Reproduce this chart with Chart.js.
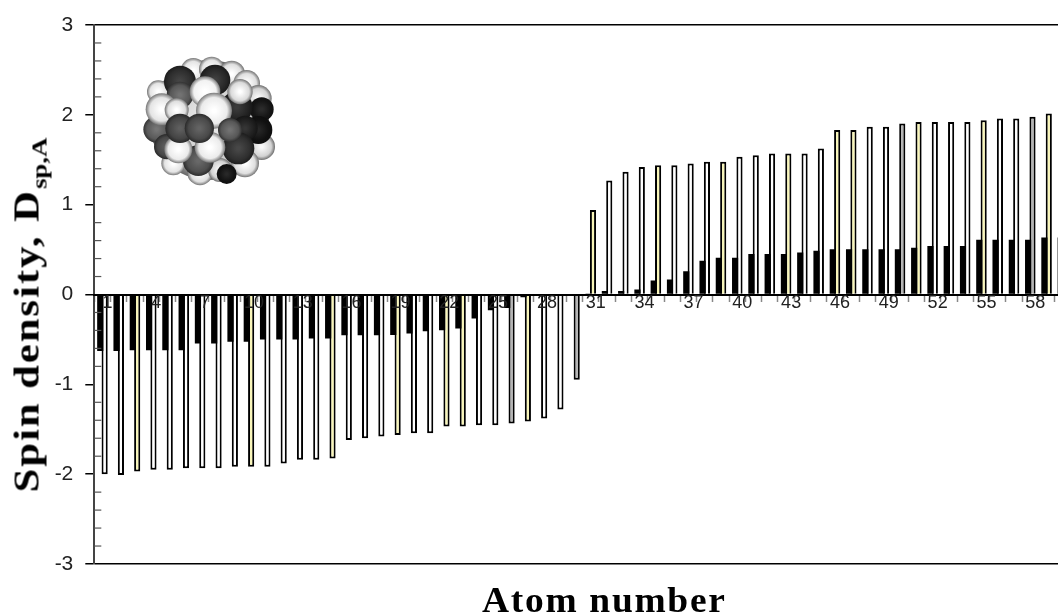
<!DOCTYPE html>
<html lang="en">
  <head>
    <meta charset="UTF-8" />
    <title>Spin density by atom</title>
    <script src="https://cdn.jsdelivr.net/npm/chart.js"></script>
    <style>
      html,
      body {
        margin: 0;
        padding: 0;
        width: 1058px;
        height: 613px;
        overflow: hidden;
        background: #fff;
      }
      #chart {
        position: absolute;
        left: 0;
        top: 0;
      }
      .title {
        position: absolute;
        font-family: "Liberation Serif", serif;
        font-weight: bold;
        color: #000;
        white-space: nowrap;
      }
      #xTitle {
        left: 482px;
        top: 581px;
        font-size: 35px;
        letter-spacing: 1.6px;
        transform-origin: left top;
        transform: scaleX(1.07);
      }
      #yTitle {
        left: 30px;
        top: 315px;
        font-size: 35px;
        letter-spacing: 1.6px;
        transform: translate(-50%, -50%) rotate(-90deg) scaleX(1.22);
      }
      #yTitle sub {
        font-size: 22px;
        letter-spacing: 0;
      }
    </style>
  </head>
  <body>
    <canvas id="chart" width="1071" height="613"></canvas>
    <div class="title" id="xTitle">Atom number</div>
    <div class="title" id="yTitle">Spin density, D<sub>sp,A</sub></div>

    <script>
      const atoms = [
        1, 2, 3, 4, 5, 6, 7, 8, 9, 10, 11, 12, 13, 14, 15, 16, 17, 18, 19, 20,
        21, 22, 23, 24, 25, 26, 27, 28, 29, 30, 31, 32, 33, 34, 35, 36, 37, 38,
        39, 40, 41, 42, 43, 44, 45, 46, 47, 48, 49, 50, 51, 52, 53, 54, 55, 56,
        57, 58, 59, 60,
      ];
      const blackValues = [
        -0.63, -0.63, -0.62, -0.62, -0.62, -0.62, -0.545, -0.545, -0.527, -0.527,
        -0.5, -0.5, -0.5, -0.49, -0.49, -0.453, -0.453, -0.453, -0.45, -0.434,
        -0.41, -0.397, -0.378, -0.267, -0.175, -0.15, -0.03, 0, 0, 0,
        0.01, 0.04, 0.04, 0.055, 0.156, 0.167, 0.26, 0.375, 0.41, 0.41,
        0.45, 0.45, 0.45, 0.468, 0.486, 0.505, 0.505, 0.505, 0.505, 0.505,
        0.52, 0.54, 0.54, 0.54, 0.61, 0.61, 0.61, 0.61, 0.635, 0.635,
      ];
      const whiteValues = [
        -2.0, -2.01, -1.97, -1.95, -1.95, -1.935, -1.935, -1.935, -1.917, -1.917,
        -1.917, -1.88, -1.84, -1.84, -1.825, -1.62, -1.6, -1.58, -1.565, -1.545,
        -1.545, -1.47, -1.47, -1.455, -1.455, -1.435, -1.415, -1.38, -1.28, -0.95,
        0.94, 1.27, 1.366, 1.42, 1.44, 1.44, 1.458, 1.477, 1.477, 1.533,
        1.55, 1.57, 1.57, 1.57, 1.625, 1.83, 1.83, 1.867, 1.867, 1.904,
        1.92, 1.92, 1.92, 1.92, 1.94, 1.96, 1.96, 1.98, 2.015, 2.03,
      ];
      const yellowAtoms = [3, 10, 15, 19, 22, 23, 27, 31, 35, 39, 43, 46, 47, 51, 55, 59];
      const grayAtoms = [26, 30, 50, 58];

      // ball model in the corner: x, y, radius, shade (0 dark .. 1 light)
      const balls = [
        [237, 210, 180, 0.8],
        [190, 62, 38, 0.92], [245, 58, 38, 0.92], [305, 72, 40, 0.9], [350, 100, 40, 0.9],
        [385, 145, 40, 0.85], [395, 290, 40, 0.85], [345, 340, 42, 0.9], [130, 340, 36, 0.92],
        [210, 368, 38, 0.9], [270, 360, 36, 0.85], [85, 125, 34, 0.92],
        [80, 238, 40, 0.33], [110, 290, 38, 0.25], [150, 95, 48, 0.14], [150, 135, 40, 0.32],
        [255, 90, 46, 0.12], [395, 178, 36, 0.04], [385, 240, 42, 0.02], [320, 172, 48, 0.1],
        [345, 235, 38, 0.08], [325, 295, 48, 0.15], [205, 332, 46, 0.28], [290, 372, 30, 0.03],
        [95, 178, 48, 0.92], [140, 180, 36, 0.9], [330, 125, 38, 0.88], [225, 125, 46, 0.98],
        [252, 182, 54, 0.95], [240, 292, 46, 0.95], [145, 298, 42, 0.95],
        [300, 240, 36, 0.32], [150, 235, 44, 0.24], [208, 235, 44, 0.26],
      ];

      function shadeColor(shade, gain) {
        const v = Math.max(0, Math.min(255, Math.round(shade * 255 * gain + 12)));
        return `rgb(${v},${v},${v})`;
      }

      const fullerenePlugin = {
        id: "fullerene",
        afterDraw(chart) {
          const ctx = chart.ctx;
          ctx.save();
          ctx.translate(130, 50);
          ctx.scale(1 / 3, 1 / 3);
          ctx.filter = "blur(0.6px)";
          balls.forEach(([x, y, r, shade]) => {
            const g = ctx.createRadialGradient(x, y, r * 0.1, x, y, r);
            g.addColorStop(0, shadeColor(shade + 0.08, 1));
            g.addColorStop(0.7, shadeColor(shade, 0.92));
            g.addColorStop(1, shadeColor(shade, 0.45));
            ctx.fillStyle = g;
            ctx.beginPath();
            ctx.arc(x, y, r, 0, 2 * Math.PI);
            ctx.fill();
          });
          ctx.restore();
        },
      };

      // minor ticks on the y axis point inwards, so the scale can't draw them
      const minorTicksPlugin = {
        id: "minorTicks",
        afterDatasetsDraw(chart) {
          const ctx = chart.ctx;
          const y = chart.scales.y;
          ctx.save();
          ctx.strokeStyle = "#555";
          ctx.lineWidth = 1.2;
          y.ticks.forEach((tick) => {
            if (isMajor(tick.value)) return;
            const py = y.getPixelForValue(tick.value);
            ctx.beginPath();
            ctx.moveTo(y.right, py);
            ctx.lineTo(y.right + 7, py);
            ctx.stroke();
          });
          ctx.restore();
        },
      };

      function isMajor(v) {
        return Math.abs(v - Math.round(v)) < 1e-6;
      }

      function whiteFill(c) {
        const atom = atoms[c.dataIndex];
        if (yellowAtoms.includes(atom)) return "#f9f6b8";
        if (grayAtoms.includes(atom)) return "#b4b4b4";
        return "#ffffff";
      }

      new Chart(document.getElementById("chart"), {
        type: "bar",
        data: {
          labels: atoms,
          datasets: [
            {
              label: "s",
              data: blackValues,
              backgroundColor: "#000",
              categoryPercentage: 0.54,
              barPercentage: 1.4,
            },
            {
              label: "p",
              data: whiteValues,
              backgroundColor: whiteFill,
              borderColor: "#000",
              borderWidth: 2,
              categoryPercentage: 0.54,
              barPercentage: 1.4,
            },
          ],
        },
        options: {
          responsive: false,
          animation: false,
          layout: { padding: { top: 25, bottom: 49, left: 0, right: 0 } },
          plugins: { legend: { display: false }, tooltip: { enabled: false } },
          scales: {
            x: {
              position: { y: 0 },
              offset: true,
              border: { color: "#000", width: 2, z: 1 },
              grid: {
                drawOnChartArea: false,
                drawTicks: true,
                tickLength: 6,
                tickColor: "#888",
                tickWidth: 1.5,
              },
              ticks: {
                autoSkip: false,
                maxRotation: 0,
                z: 1,
                padding: -8,
                labelOffset: 5,
                color: "#222",
                font: { family: "Liberation Sans", size: 18 },
                callback: (v, i) => (i % 3 === 0 ? atoms[i] : ""),
              },
            },
            y: {
              min: -3,
              max: 3,
              afterFit: (scale) => {
                scale.width = 94.3;
              },
              border: { color: "#444", width: 2 },
              grid: {
                tickLength: 9,
                color: (c) => (Math.abs(c.tick.value) === 3 ? "#000" : "transparent"),
                tickColor: (c) => (isMajor(c.tick.value) ? "#000" : "transparent"),
                lineWidth: 1.5,
              },
              ticks: {
                stepSize: 0.2,
                autoSkip: false,
                padding: 12,
                color: "#222",
                font: { family: "Liberation Sans", size: 21 },
                callback: (v) => (isMajor(v) ? Math.round(v) : ""),
              },
            },
          },
        },
        plugins: [minorTicksPlugin, fullerenePlugin],
      });
    </script>
  </body>
</html>
